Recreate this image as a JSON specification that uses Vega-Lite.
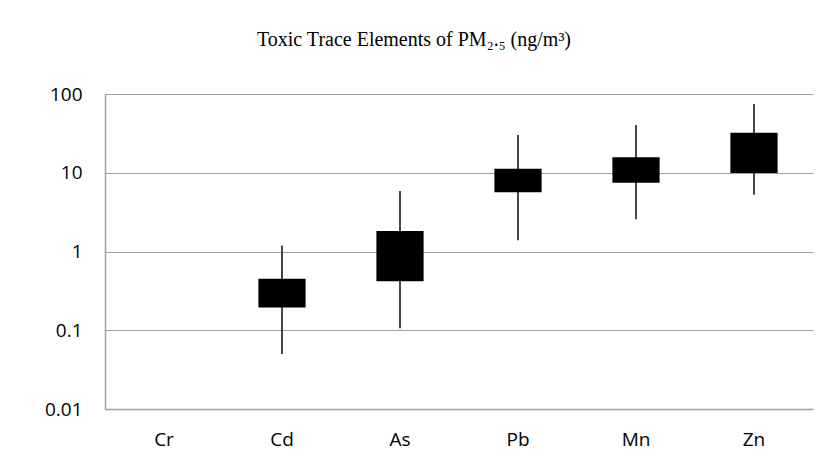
{
  "$schema": "https://vega.github.io/schema/vega-lite/v6.json",
  "width": 708,
  "height": 315,
  "autosize": {"type": "none"},
  "padding": {"left": 105, "top": 94, "right": 16, "bottom": 54},
  "background": "white",
  "title": {
    "text": "Toxic Trace Elements of PM₂.₅ (ng/m³)",
    "font": "Liberation Serif",
    "fontSize": 20,
    "fontWeight": "normal",
    "color": "#000000",
    "anchor": "middle",
    "frame": "group",
    "dx": -45,
    "baseline": "alphabetic",
    "offset": 19
  },
  "data": {
    "values": [
      {"element": "Cr", "low": null, "q1": null, "q3": null, "high": null},
      {"element": "Cd", "low": 0.05, "q1": 0.195, "q3": 0.452, "high": 1.19},
      {"element": "As", "low": 0.106, "q1": 0.42, "q3": 1.82, "high": 5.86},
      {"element": "Pb", "low": 1.39, "q1": 5.65, "q3": 11.2, "high": 30.1},
      {"element": "Mn", "low": 2.56, "q1": 7.48, "q3": 15.7, "high": 40.4},
      {"element": "Zn", "low": 5.26, "q1": 9.9, "q3": 32.3, "high": 74.6}
    ]
  },
  "encoding": {
    "x": {
      "field": "element",
      "type": "nominal",
      "sort": null,
      "title": null,
      "scale": {"domain": ["Cr", "Cd", "As", "Pb", "Mn", "Zn"], "paddingInner": 0, "paddingOuter": 0},
      "axis": {
        "labelAngle": 0,
        "labelFont": "Open Sans",
        "labelFontSize": 19,
        "labelColor": "#000000",
        "labelPadding": 21,
        "ticks": false,
        "tickSize": 0,
        "domainColor": "#a0a0a0",
        "domainWidth": 1.5,
        "grid": false
      }
    }
  },
  "layer": [
    {
      "mark": {"type": "rule", "color": "#1a1a1a", "strokeWidth": 1.6},
      "encoding": {
        "y": {
          "field": "low",
          "type": "quantitative",
          "title": null,
          "scale": {"type": "log", "domain": [0.01, 100]},
          "axis": {
            "values": [0.01, 0.1, 1, 10, 100],
            "format": "~g",
            "labelFont": "Open Sans",
            "labelFontSize": 19,
            "labelColor": "#000000",
            "labelPadding": 23,
            "ticks": false,
            "tickSize": 0,
            "domainColor": "#a0a0a0",
            "domainWidth": 1.5,
            "grid": true,
            "gridColor": "#a0a0a0",
            "gridWidth": 1.2
          }
        },
        "y2": {"field": "high"}
      }
    },
    {
      "mark": {"type": "bar", "color": "#000000", "width": {"band": 0.4}},
      "encoding": {
        "y": {"field": "q1", "type": "quantitative"},
        "y2": {"field": "q3"}
      }
    }
  ],
  "config": {"view": {"stroke": null}}
}
